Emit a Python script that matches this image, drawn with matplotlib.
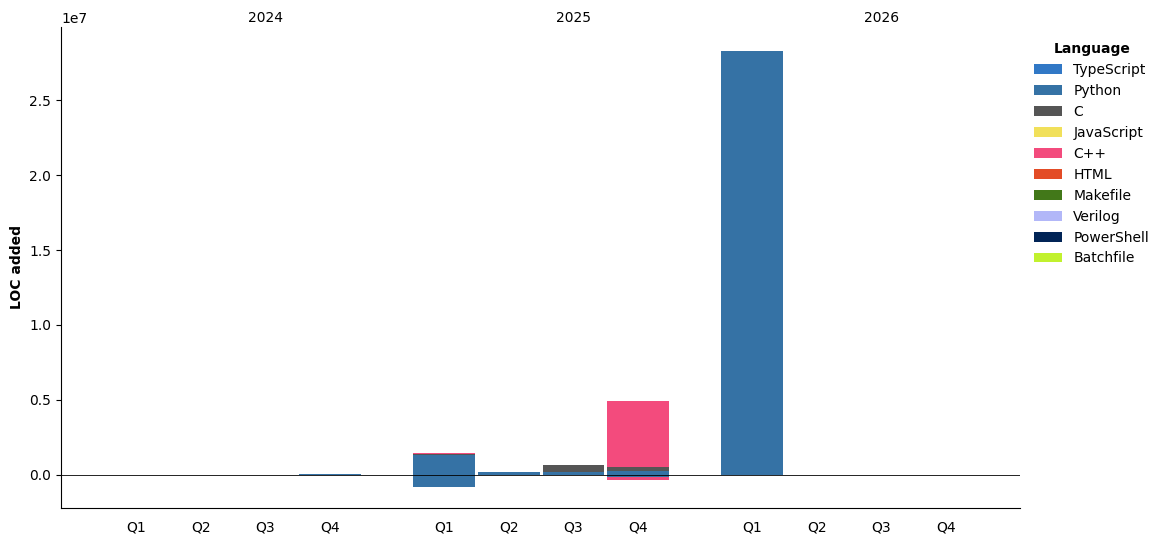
import matplotlib
matplotlib.use("Agg")
from matplotlib import pyplot as plt
import numpy as np

years = ["2024", "2025", "2026"]
quarters = ["Q1", "Q2", "Q3", "Q4"]

languages = ["TypeScript", "Python", "C", "JavaScript", "C++", "HTML",
             "Makefile", "Verilog", "PowerShell", "Batchfile"]
colors = ["#3178c6", "#3572A5", "#555555", "#f1e05a", "#f34b7d", "#e34c26",
          "#427819", "#b2b7f8", "#012456", "#c1f12e"]

# LOC added per quarter (2024 Q1 .. 2026 Q4)
added = {
    "TypeScript": [0, 0, 0, 0, 0, 0, 0, 0, 0, 0, 0, 0],
    "Python":     [0, 0, 0, 0.08e6, 1.33e6, 0.2e6, 0.2e6, 0.27e6, 28.25e6, 0, 0, 0],
    "C":          [0, 0, 0, 0, 0.07e6, 0, 0.47e6, 0.27e6, 0, 0, 0, 0],
    "JavaScript": [0, 0, 0, 0, 0, 0, 0, 0, 0, 0, 0, 0],
    "C++":        [0, 0, 0, 0, 0.05e6, 0, 0, 4.4e6, 0, 0, 0, 0],
    "HTML":       [0, 0, 0, 0, 0, 0, 0, 0, 0, 0, 0, 0],
    "Makefile":   [0, 0, 0, 0, 0, 0, 0, 0, 0, 0, 0, 0],
    "Verilog":    [0, 0, 0, 0, 0, 0, 0, 0, 0, 0, 0, 0],
    "PowerShell": [0, 0, 0, 0, 0, 0, 0, 0, 0, 0, 0, 0],
    "Batchfile":  [0, 0, 0, 0, 0, 0, 0, 0, 0, 0, 0, 0],
}
# net negative quarters
removed = {
    "Python":     [0, 0, 0, 0, -0.8e6, -0.03e6, -0.03e6, -0.15e6, 0, 0, 0, 0],
    "C++":        [0, 0, 0, 0, 0, 0, 0, -0.17e6, 0, 0, 0, 0],
}

group_step = 4.76
xpos = np.array([y * group_step + q for y in range(len(years)) for q in range(len(quarters))])

fig = plt.figure(figsize=(11.63, 5.42), dpi=100)
ax = fig.add_axes([0.0525, 0.063, 0.8245, 0.887])

pos_bottom = np.zeros(len(xpos))
neg_bottom = np.zeros(len(xpos))
for lang, col in zip(languages, colors):
    vals = np.array(added[lang])
    ax.bar(xpos, vals, bottom=pos_bottom, width=0.95, color=col, label=lang)
    pos_bottom += vals
    if lang in removed:
        nv = np.array(removed[lang])
        ax.bar(xpos, nv, bottom=neg_bottom, width=0.95, color=col)
        neg_bottom += nv

ax.axhline(0, color="black", linewidth=0.6)

ax.set_xticks(xpos)
ax.set_xticklabels(quarters * len(years))
ax.tick_params(axis="x", length=0, pad=9)
ax.set_xlim(xpos[0] - 1.16, xpos[-1] + 1.14)
ax.set_ylim(-2.2e6, 29.87e6)
ax.set_ylabel("LOC added", fontweight="bold")

for i, yr in enumerate(years):
    ax.text(i * group_step + 2, 1.005, yr, transform=ax.get_xaxis_transform(),
            ha="center", va="bottom", fontsize=10)

ax.spines["top"].set_visible(False)
ax.spines["right"].set_visible(False)

leg = ax.legend(title="Language", loc="upper left", bbox_to_anchor=(1.002, 0.995),
                frameon=False)
leg.get_title().set_fontweight("bold")

fig.savefig("out.png", dpi=100)
